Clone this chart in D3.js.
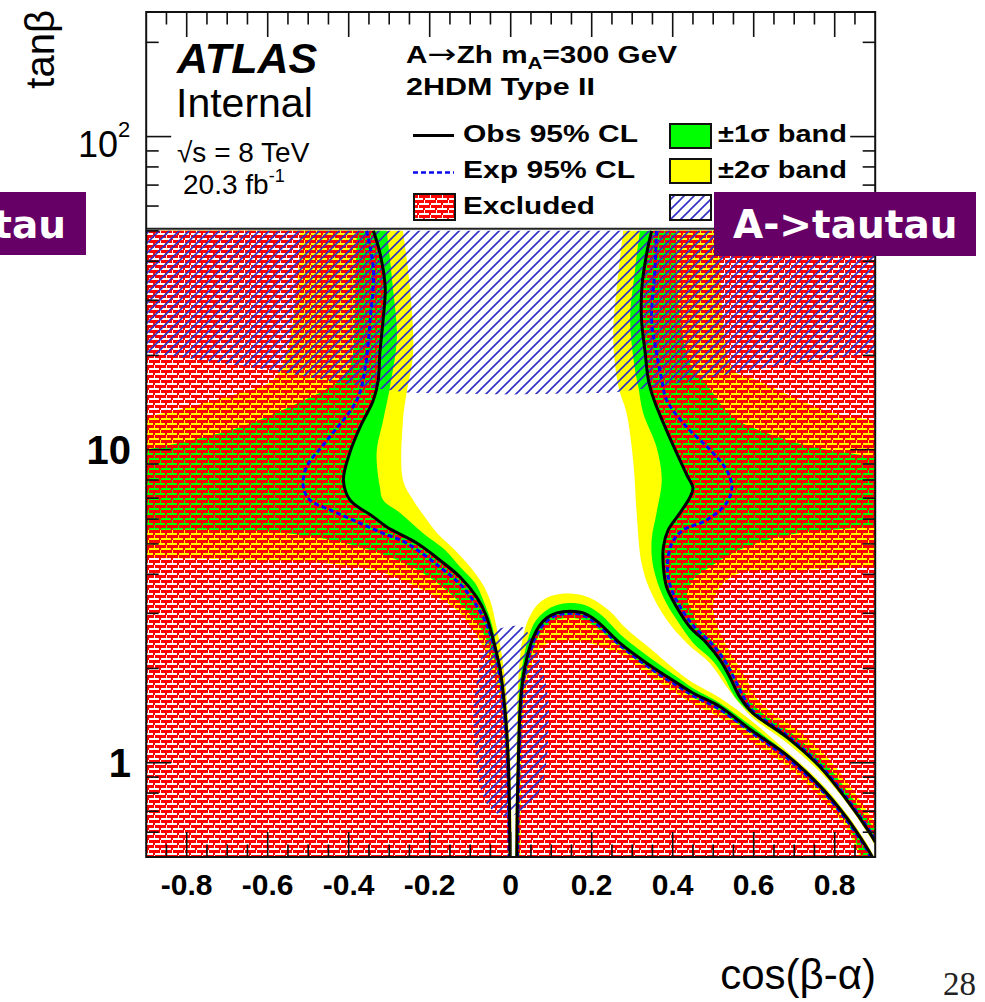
<!DOCTYPE html>
<html>
<head>
<meta charset="utf-8">
<title>A→Zh exclusion, 2HDM Type II</title>
<script src="https://cdn.jsdelivr.net/npm/d3@7/dist/d3.min.js"></script>
<style>
  html,body{margin:0;padding:0;background:#fff;}
  svg{display:block;}
</style>
</head>
<body>
<svg id="chart" width="985" height="1002"></svg>
<script>
// ---------- axes ----------
const xDomain = [-0.9, 0.9];
const yDomain = [0.5, 250];
const xMajorTicks = [-0.8, -0.6, -0.4, -0.2, 0, 0.2, 0.4, 0.6, 0.8];
const xTickLabels = ["-0.8", "-0.6", "-0.4", "-0.2", "0", "0.2", "0.4", "0.6", "0.8"];
const yMajorTicks = [1, 10, 100];
const yMinorTicks = [0.6, 0.7, 0.8, 0.9, 2, 3, 4, 5, 6, 7, 8, 9, 20, 30, 40, 50, 60, 70, 80, 90, 200];

// ---------- contours: [cos(beta-alpha), tan(beta)] ----------
// observed 95% CL limit (three pieces)
const obsLeft = [[-0.339,50],[-0.323,42.5],[-0.310,33.1],[-0.315,26.0],[-0.323,20.4],[-0.327,16.7],[-0.339,14.4],[-0.372,11.8],[-0.397,9.8],[-0.413,8.0],[-0.397,6.91],[-0.339,6.10],[-0.306,5.66],[-0.232,5.03],[-0.175,4.44],[-0.125,3.92],[-0.084,3.38],[-0.061,2.96],[-0.043,2.47],[-0.026,1.98],[-0.014,1.47],[-0.006,1.02],[-0.003,0.706],[-0.002,0.5]];
const obsWedge = [[0.015,0.5],[0.016,0.706],[0.019,1.02],[0.023,1.47],[0.028,1.77],[0.035,2.02],[0.045,2.29],[0.056,2.52],[0.072,2.75],[0.089,2.90],[0.114,3.01],[0.146,3.05],[0.179,3.01],[0.212,2.84],[0.270,2.41],[0.336,2.08],[0.410,1.80],[0.450,1.67],[0.517,1.51],[0.598,1.26],[0.681,1.06],[0.764,0.842],[0.830,0.666],[0.880,0.534],[0.893,0.5]];
const obsRight = [[0.348,50],[0.336,42.5],[0.324,33.1],[0.323,26.0],[0.332,20.4],[0.340,16.7],[0.354,14.4],[0.379,12.0],[0.406,10.0],[0.435,8.30],[0.450,7.54],[0.443,7.06],[0.418,6.28],[0.389,5.54],[0.377,4.89],[0.377,4.22],[0.385,3.64],[0.410,3.14],[0.443,2.71],[0.484,2.41],[0.517,2.13],[0.541,1.88],[0.566,1.62],[0.598,1.44],[0.681,1.21],[0.764,0.969],[0.830,0.760],[0.887,0.596],[0.9,0.558]];

// expected 95% CL limit
const expLeft = [[-0.356,50],[-0.339,37.5],[-0.347,26.0],[-0.360,18.0],[-0.380,14.4],[-0.454,10.7],[-0.504,8.80],[-0.512,7.60],[-0.496,6.91],[-0.446,6.42],[-0.389,5.96],[-0.323,5.46],[-0.257,5.03],[-0.175,4.22],[-0.118,3.64],[-0.068,2.92],[-0.046,2.47],[-0.029,1.98],[-0.017,1.47],[-0.008,1.02],[-0.005,0.706],[-0.004,0.5]];
const expWedge = [[0.017,0.5],[0.018,0.706],[0.021,1.02],[0.025,1.47],[0.030,1.77],[0.038,2.02],[0.049,2.29],[0.060,2.50],[0.075,2.71],[0.091,2.85],[0.114,2.96],[0.146,3.0],[0.179,2.96],[0.212,2.78],[0.270,2.37],[0.336,2.04],[0.410,1.765],[0.450,1.639],[0.517,1.479],[0.598,1.240],[0.681,1.039],[0.764,0.827],[0.830,0.654],[0.880,0.526],[0.888,0.5]];
const expRight = [[0.360,50],[0.356,37.5],[0.348,26.0],[0.360,20.4],[0.373,16.7],[0.385,14.4],[0.435,11.8],[0.492,10.0],[0.533,8.61],[0.546,7.60],[0.533,6.76],[0.484,5.96],[0.426,5.54],[0.398,5.03],[0.387,4.22],[0.395,3.64],[0.419,3.14],[0.454,2.71],[0.495,2.41],[0.527,2.13],[0.550,1.88],[0.575,1.62],[0.598,1.463],[0.681,1.226],[0.764,0.983],[0.830,0.771],[0.887,0.605],[0.9,0.566]];

// expected -2 sigma contour (outer edge of the yellow band)
const minus2Left = [[-0.266,50],[-0.249,33.1],[-0.241,20.4],[-0.257,15.2],[-0.266,12.4],[-0.266,8.0],[-0.241,6.91],[-0.212,6.10],[-0.182,5.42],[-0.138,4.78],[-0.100,4.22],[-0.071,3.75],[-0.051,3.31],[-0.036,2.75],[-0.024,2.29],[-0.014,1.84],[-0.008,1.47],[-0.001,1.02],[0.0015,0.706],[0.0025,0.5]];
const minus2Wedge = [[0.011,0.5],[0.012,0.706],[0.014,1.02],[0.016,1.47],[0.018,1.77],[0.021,2.02],[0.025,2.29],[0.031,2.54],[0.043,2.86],[0.065,3.19],[0.092,3.38],[0.122,3.46],[0.159,3.46],[0.196,3.36],[0.245,3.05],[0.282,2.71],[0.344,2.32],[0.411,1.96],[0.450,1.80],[0.517,1.61],[0.598,1.35],[0.681,1.09],[0.764,0.868],[0.830,0.686],[0.880,0.55],[0.898,0.5]];
const minus2Right = [[0.278,50],[0.262,33.1],[0.253,22.9],[0.266,15.9],[0.286,13.1],[0.303,9.07],[0.311,6.28],[0.323,4.35],[0.344,3.56],[0.385,2.86],[0.435,2.41],[0.492,2.08],[0.533,1.75],[0.566,1.54],[0.598,1.39],[0.681,1.16],[0.764,0.934],[0.830,0.743],[0.887,0.579],[0.9,0.542]];

// expected -1 sigma contour (outer edge of the green band)
const minus1Left = [[-0.306,50],[-0.291,33.1],[-0.281,22.9],[-0.298,15.9],[-0.315,12.4],[-0.331,9.8],[-0.323,7.60],[-0.315,6.91],[-0.273,6.28],[-0.217,5.42],[-0.162,4.78],[-0.125,4.22],[-0.088,3.75],[-0.068,3.31],[-0.046,2.75],[-0.034,2.29],[-0.021,1.84],[-0.012,1.47],[-0.003,1.02],[-0.001,0.706],[0.0,0.5]];
const minus1Wedge = [[0.013,0.5],[0.014,0.706],[0.016,1.02],[0.019,1.47],[0.022,1.77],[0.028,2.02],[0.036,2.29],[0.045,2.54],[0.060,2.82],[0.085,3.05],[0.114,3.19],[0.146,3.24],[0.183,3.19],[0.220,2.99],[0.275,2.54],[0.339,2.19],[0.411,1.88],[0.450,1.73],[0.517,1.55],[0.598,1.30],[0.681,1.074],[0.764,0.855],[0.830,0.676],[0.880,0.54],[0.895,0.5]];
const minus1Right = [[0.319,50],[0.307,37.5],[0.295,26.0],[0.307,18.0],[0.315,15.9],[0.327,13.1],[0.360,10.2],[0.373,8.0],[0.360,6.28],[0.348,5.15],[0.352,4.22],[0.377,3.38],[0.410,2.86],[0.451,2.41],[0.497,2.13],[0.527,1.88],[0.554,1.62],[0.598,1.42],[0.681,1.19],[0.764,0.955],[0.830,0.754],[0.887,0.587],[0.9,0.550]];

// expected +1 sigma contour (inner edge of the green band)
const plus1UpperLeft = [[-0.380,50],[-0.384,30.1],[-0.389,20.4],[-0.397,18.4],[-0.421,16.7],[-0.545,13.7],[-0.668,11.8],[-0.792,10.7],[-0.9,10.0]];
const plus1LowerLeft = [[-0.9,5.54],[-0.587,5.46],[-0.421,5.07],[-0.298,4.54],[-0.217,4.04],[-0.150,3.48],[-0.109,3.07],[-0.076,2.71],[-0.054,2.38],[-0.036,2.02],[-0.021,1.59],[-0.012,1.10],[-0.007,0.76],[-0.004,0.5]];
const plus1Wedge = [[0.021,0.5],[0.022,1.02],[0.027,1.47],[0.033,1.77],[0.042,2.02],[0.055,2.29],[0.068,2.52],[0.085,2.70],[0.114,2.86],[0.146,2.90],[0.179,2.86],[0.212,2.70],[0.270,2.34],[0.336,2.02],[0.410,1.75],[0.450,1.62],[0.517,1.46],[0.598,1.23],[0.681,1.03],[0.764,0.818],[0.830,0.646],[0.866,0.5]];
const plus1UpperRight = [[0.410,50],[0.418,26.0],[0.450,18.0],[0.475,16.7],[0.549,12.7],[0.632,11.3],[0.746,10.2],[0.9,9.48]];
const plus1LowerRight = [[0.9,5.66],[0.714,5.42],[0.632,5.15],[0.549,4.68],[0.492,4.22],[0.450,3.83],[0.435,3.38],[0.450,3.01],[0.462,2.73],[0.500,2.43],[0.532,2.14],[0.554,1.89],[0.581,1.645],[0.613,1.47],[0.695,1.24],[0.776,0.998],[0.840,0.783],[0.9,0.610]];

// expected +2 sigma contour (inner edge of the yellow band)
const plus2UpperLeft = [[-0.520,50],[-0.528,33.1],[-0.553,20.4],[-0.587,16.7],[-0.668,15.2],[-0.792,13.7],[-0.9,12.7]];
const plus2LowerLeft = [[-0.9,4.51],[-0.504,4.38],[-0.339,4.13],[-0.216,3.56],[-0.133,3.07],[-0.092,2.65],[-0.068,2.34],[-0.046,1.98],[-0.026,1.59],[-0.014,1.10],[-0.008,0.76],[-0.005,0.5]];
const plus2Wedge = [[0.025,0.5],[0.027,1.02],[0.033,1.47],[0.040,1.77],[0.050,2.02],[0.065,2.26],[0.090,2.40],[0.120,2.45],[0.160,2.45],[0.210,2.38],[0.270,2.22],[0.336,1.92],[0.410,1.66],[0.450,1.54],[0.517,1.39],[0.598,1.16],[0.681,0.976],[0.764,0.777],[0.830,0.614],[0.862,0.5]];
const plus2UpperRight = [[0.517,50],[0.524,26.0],[0.549,18.0],[0.607,16.7],[0.714,14.4],[0.796,13.1],[0.9,12.4]];
const plus2LowerRight = [[0.9,4.22],[0.714,4.13],[0.566,4.04],[0.517,3.64],[0.500,3.14],[0.517,2.60],[0.549,2.18],[0.583,1.84],[0.605,1.62],[0.653,1.42],[0.714,1.26],[0.788,1.02],[0.850,0.80],[0.9,0.64]];

// A -> tautau exclusion (hatched)
const tautauUpper = [[-0.9,50],[0.9,50],[0.9,20.4],[0.75,19.2],[0.6,18.0],[0.45,16.6],[0.35,15.8],[0.25,15.2],[0,15.0],[-0.25,15.2],[-0.35,15.8],[-0.45,16.6],[-0.6,18.0],[-0.75,19.2],[-0.9,20.4]];
const tautauLower = [[-0.044,2.62],[0.027,2.72],[0.048,2.53],[0.072,2.13],[0.093,1.59],[0.093,1.30],[0.089,1.02],[0.072,0.818],[0.040,0.724],[-0.010,0.672],[-0.051,0.717],[-0.076,0.838],[-0.088,1.125],[-0.092,1.474],[-0.080,1.935],[-0.068,2.29]];

// ---------- drawing ----------
const SANS = "'Liberation Sans', Arial, Helvetica, sans-serif";
const svg = d3.select("#chart").style("font-family", SANS);
const x = d3.scaleLinear().domain(xDomain).range([146.2, 875.2]);
const y = d3.scaleLog().domain(yDomain).range([857, 12]);
const X0 = x(xDomain[0]), X1 = x(xDomain[1]);
const YB = y(yDomain[0]), YT = y(yDomain[1]);

const defs = svg.append("defs");
defs.append("clipPath").attr("id", "plotClip")
  .append("rect").attr("x", X0).attr("y", YT).attr("width", X1 - X0).attr("height", YB - YT);

// red brick fill: bricks are painted, the mortar lets the bands show through
const brick = defs.append("pattern").attr("id", "brick")
  .attr("patternUnits", "userSpaceOnUse").attr("width", 12).attr("height", 10);
[[0,0,4,3],[5,0,7,3],[9,3,2,2],[0,5,10,3],[11,5,1,3],[3,8,2,2]].forEach(r =>
  brick.append("rect").attr("x", r[0]).attr("y", r[1]).attr("width", r[2]).attr("height", r[3]).attr("fill", "#ff0000"));

// blue diagonal hatch
const hatch = defs.append("pattern").attr("id", "hatch")
  .attr("patternUnits", "userSpaceOnUse").attr("width", 10).attr("height", 10);
hatch.append("path").attr("d", "M-1,11 L11,-1 M-1,1 L1,-1 M9,11 L11,9")
  .attr("stroke", "#2f2fc4").attr("stroke-width", 1.6).attr("fill", "none");

const smooth = d3.line().x(d => x(d[0])).y(d => y(d[1])).curve(d3.curveCatmullRom.alpha(0.5));
function region(pts, corners) {
  return smooth(pts) + corners.map(c => "L" + x(c[0]) + "," + y(c[1])).join("") + "Z";
}
const TL = [-0.9, 50], BL = [-0.9, 0.5], TR = [0.9, 50];

const plot = svg.append("g").attr("clip-path", "url(#plotClip)");
function fillRegions(list, fill) {
  list.forEach(([pts, corners]) => plot.append("path").attr("d", region(pts, corners)).attr("fill", fill));
}

// bands: -2 sigma (yellow), -1 sigma (green), +1 sigma (yellow), +2 sigma (clear)
fillRegions([[minus2Left, [BL, TL]], [minus2Wedge, []], [minus2Right, [TR]]], "#ffff00");
fillRegions([[minus1Left, [BL, TL]], [minus1Wedge, []], [minus1Right, [TR]]], "#00ff00");
fillRegions([[plus1UpperLeft, [TL]], [plus1LowerLeft, [BL]], [plus1Wedge, []], [plus1UpperRight, [TR]], [plus1LowerRight, []]], "#ffff00");
fillRegions([[plus2UpperLeft, [TL]], [plus2LowerLeft, [BL]], [plus2Wedge, []], [plus2UpperRight, [TR]], [plus2LowerRight, []]], "#ffffff");

// observed exclusion
fillRegions([[obsLeft, [BL, TL]], [obsWedge, []], [obsRight, [TR]]], "url(#brick)");

// A -> tautau hatched regions
plot.append("path").attr("d", d3.line().x(d => x(d[0])).y(d => y(d[1])).curve(d3.curveLinearClosed)(tautauUpper))
  .attr("fill", "url(#hatch)");
plot.append("path").attr("d", d3.line().x(d => x(d[0])).y(d => y(d[1])).curve(d3.curveCatmullRomClosed.alpha(0.5))(tautauLower))
  .attr("fill", "url(#hatch)");

// limit lines
[expLeft, expWedge, expRight].forEach(c => plot.append("path").attr("d", smooth(c))
  .attr("fill", "none").attr("stroke", "#0a0af0").attr("stroke-width", 3).attr("stroke-dasharray", "5 3"));
[obsLeft, obsWedge, obsRight].forEach(c => plot.append("path").attr("d", smooth(c))
  .attr("fill", "none").attr("stroke", "#000").attr("stroke-width", 3));

// legend panel across the top of the frame
svg.append("rect").attr("x", X0).attr("y", YT).attr("width", X1 - X0).attr("height", y(50) - YT - 1.5).attr("fill", "#fff");
svg.append("line").attr("x1", X0).attr("x2", X1).attr("y1", y(50) - 2).attr("y2", y(50) - 2)
  .attr("stroke", "#222").attr("stroke-width", 2);

// frame
svg.append("rect").attr("x", X0).attr("y", YT).attr("width", X1 - X0).attr("height", YB - YT)
  .attr("fill", "none").attr("stroke", "#111").attr("stroke-width", 2);

// ticks
const tickG = svg.append("g").attr("stroke", "#111").attr("stroke-width", 1.6);
const xMinor = d3.range(-0.85, 0.86, 0.05).filter(v => !xMajorTicks.some(m => Math.abs(m - v) < 1e-6));
xMajorTicks.forEach(v => {
  tickG.append("line").attr("x1", x(v)).attr("x2", x(v)).attr("y1", YB).attr("y2", YB - 25);
  tickG.append("line").attr("x1", x(v)).attr("x2", x(v)).attr("y1", YT).attr("y2", YT + 25);
});
xMinor.forEach(v => {
  tickG.append("line").attr("x1", x(v)).attr("x2", x(v)).attr("y1", YB).attr("y2", YB - 12.5);
  tickG.append("line").attr("x1", x(v)).attr("x2", x(v)).attr("y1", YT).attr("y2", YT + 12.5);
});
yMajorTicks.forEach(v => {
  tickG.append("line").attr("x1", X0).attr("x2", X0 + 25).attr("y1", y(v)).attr("y2", y(v));
  tickG.append("line").attr("x1", X1).attr("x2", X1 - 25).attr("y1", y(v)).attr("y2", y(v));
});
yMinorTicks.forEach(v => {
  tickG.append("line").attr("x1", X0).attr("x2", X0 + 12.5).attr("y1", y(v)).attr("y2", y(v));
  tickG.append("line").attr("x1", X1).attr("x2", X1 - 12.5).attr("y1", y(v)).attr("y2", y(v));
});

// tick labels
xMajorTicks.forEach((v, i) => svg.append("text").attr("x", x(v)).attr("y", 895)
  .attr("text-anchor", "middle").attr("font-size", 30).attr("font-weight", "bold").text(xTickLabels[i]));
svg.append("text").attr("x", 131).attr("y", y(1) + 14).attr("text-anchor", "end")
  .attr("font-size", 40).attr("font-weight", "bold").text("1");
svg.append("text").attr("x", 131).attr("y", y(10) + 14).attr("text-anchor", "end")
  .attr("font-size", 40).attr("font-weight", "bold").text("10");
const t100 = svg.append("text").attr("x", 78).attr("y", y(100) + 20).attr("font-size", 36);
t100.append("tspan").text("10");
t100.append("tspan").attr("font-size", 22).attr("dy", -20).text("2");

// axis titles
svg.append("text").attr("transform", "translate(54,10) rotate(-90)").attr("text-anchor", "end")
  .attr("font-size", 40).text("tanβ");
svg.append("text").attr("x", 876).attr("y", 989).attr("text-anchor", "end")
  .attr("font-size", 42).text("cos(β-α)");

// ATLAS label block
svg.append("text").attr("x", 177).attr("y", 73).attr("font-size", 43).attr("font-weight", "bold")
  .attr("font-style", "italic").text("ATLAS");
svg.append("text").attr("x", 176).attr("y", 117).attr("font-size", 41).text("Internal");
svg.append("text").attr("x", 177).attr("y", 162).attr("font-size", 28).text("√s = 8 TeV");
const lumi = svg.append("text").attr("x", 183).attr("y", 194).attr("font-size", 28);
lumi.append("tspan").text("20.3 fb");
lumi.append("tspan").attr("font-size", 18).attr("dy", -12).text("-1");

// process label
const proc = svg.append("text").attr("x", 406).attr("y", 63).attr("font-size", 23).attr("font-weight", "bold")
  .attr("textLength", 271).attr("lengthAdjust", "spacingAndGlyphs");
proc.append("tspan").text("A");
proc.append("tspan").style("font-family", "'DejaVu Sans', sans-serif").attr("font-weight", "normal").attr("font-size", 27).text("→");
proc.append("tspan").text("Zh m");
proc.append("tspan").attr("font-size", 16).attr("dy", 6).text("A");
proc.append("tspan").attr("dy", -6).text("=300 GeV");
svg.append("text").attr("x", 406).attr("y", 95).attr("font-size", 23).attr("font-weight", "bold")
  .attr("textLength", 189).attr("lengthAdjust", "spacingAndGlyphs").text("2HDM Type II");

// legend
function legText(tx, ty, str, len) {
  svg.append("text").attr("x", tx).attr("y", ty).attr("font-size", 23).attr("font-weight", "bold")
    .attr("textLength", len).attr("lengthAdjust", "spacingAndGlyphs").text(str);
}
svg.append("line").attr("x1", 413).attr("x2", 454).attr("y1", 135.5).attr("y2", 135.5).attr("stroke", "#000").attr("stroke-width", 3);
legText(463, 142, "Obs 95% CL", 175);
svg.append("line").attr("x1", 413).attr("x2", 454).attr("y1", 172.5).attr("y2", 172.5).attr("stroke", "#0a0af0")
  .attr("stroke-width", 2.6).attr("stroke-dasharray", "5 3");
legText(463, 178, "Exp 95% CL", 172);
svg.append("rect").attr("x", 414).attr("y", 194).attr("width", 41).attr("height", 26).attr("fill", "#fff");
svg.append("rect").attr("x", 414).attr("y", 194).attr("width", 41).attr("height", 26).attr("fill", "url(#brick)")
  .attr("stroke", "#111").attr("stroke-width", 2);
legText(463, 214, "Excluded", 132);
svg.append("rect").attr("x", 670).attr("y", 124).attr("width", 41).attr("height", 24).attr("fill", "#00ff00")
  .attr("stroke", "#111").attr("stroke-width", 2);
legText(718, 142, "±1σ band", 129);
svg.append("rect").attr("x", 670).attr("y", 159).attr("width", 41).attr("height", 24).attr("fill", "#ffff00")
  .attr("stroke", "#111").attr("stroke-width", 2);
legText(718, 178, "±2σ band", 129);
svg.append("rect").attr("x", 670).attr("y", 195).attr("width", 41).attr("height", 25).attr("fill", "#fff");
svg.append("rect").attr("x", 670).attr("y", 195).attr("width", 41).attr("height", 25).attr("fill", "url(#hatch)")
  .attr("stroke", "#111").attr("stroke-width", 2);

// channel tags
const TAG = "'DejaVu Sans', Verdana, sans-serif";
svg.append("rect").attr("x", -180).attr("y", 192).attr("width", 266).attr("height", 63).attr("fill", "#660066");
svg.append("text").attr("x", 66).attr("y", 238).attr("text-anchor", "end").style("font-family", TAG)
  .attr("font-weight", "bold").attr("font-size", 39).attr("fill", "#fff").text("A->tautau");
svg.append("rect").attr("x", 714).attr("y", 192).attr("width", 262).attr("height", 64).attr("fill", "#660066");
svg.append("text").attr("x", 733).attr("y", 238).style("font-family", TAG)
  .attr("font-weight", "bold").attr("font-size", 39).attr("fill", "#fff").text("A->tautau");

// page number
svg.append("text").attr("x", 943).attr("y", 995).style("font-family", "'Liberation Serif', 'Times New Roman', serif")
  .attr("font-size", 33).attr("fill", "#222").text("28");
</script>
</body>
</html>
